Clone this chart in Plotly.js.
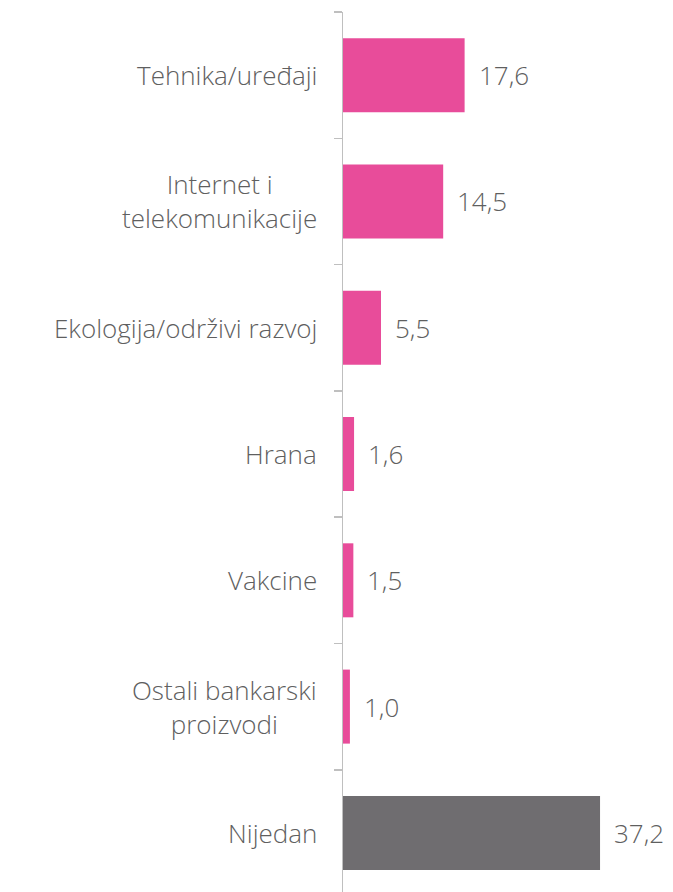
<!DOCTYPE html>
<html>
<head>
<meta charset="utf-8">
<script src="https://cdn.plot.ly/plotly-3.0.1.min.js"></script>
<style>html,body{margin:0;padding:0;background:#fff;}#chart{width:673px;height:892px;}</style>
</head>
<body>
<div id="chart"></div>
<script>
const categories = ["Tehnika/uređaji", "Internet i<br>telekomunikacije", "Ekologija/održivi razvoj", "Hrana", "Vakcine", "Ostali bankarski<br>proizvodi", "Nijedan"];
const values = [17.6, 14.5, 5.5, 1.6, 1.5, 1.0, 37.2];
const valueLabels = ["17,6", "14,5", "5,5", "1,6", "1,5", "1,0", "37,2"];
const barColors = ["#E84C9A", "#E84C9A", "#E84C9A", "#E84C9A", "#E84C9A", "#E84C9A", "#6F6D70"];

const FONT = "Open Sans, sans-serif";
const TXT = "#5F5F5F";

const trace = {
  type: "bar",
  orientation: "h",
  y: categories,
  x: values,
  marker: {color: barColors},
  hoverinfo: "none"
};

const catAnn = categories.map(c => ({
  xref: "paper", yref: "y", x: 0, y: c,
  xanchor: "right", yanchor: "middle", xshift: -24,
  text: c, align: "center", showarrow: false,
  font: {family: FONT, size: 26, color: TXT, weight: 300}
}));

const valAnn = values.map((v, i) => ({
  xref: "x", yref: "y", x: v, y: categories[i],
  xanchor: "left", yanchor: "middle", xshift: 12,
  text: valueLabels[i], showarrow: false,
  font: {family: FONT, size: 26, color: TXT, weight: 300}
}));

const layout = {
  width: 673, height: 892,
  margin: {l: 343, r: 0, t: 12, b: 0},
  paper_bgcolor: "#fff", plot_bgcolor: "#fff",
  showlegend: false,
  bargap: 0.414,
  xaxis: {range: [0, 47.76], visible: false, fixedrange: true},
  yaxis: {
    type: "category",
    categoryorder: "array", categoryarray: categories,
    range: [6.468, -0.5],
    showticklabels: false,
    showline: true, linecolor: "#BFBFBF", linewidth: 1.5,
    ticks: "outside", tickson: "boundaries", ticklen: 8, tickcolor: "#BFBFBF", tickwidth: 1.5,
    showgrid: false, zeroline: false
  },
  annotations: catAnn.concat(valAnn)
};

Plotly.newPlot("chart", [trace], layout, {displayModeBar: false, staticPlot: true});
</script>
</body>
</html>
